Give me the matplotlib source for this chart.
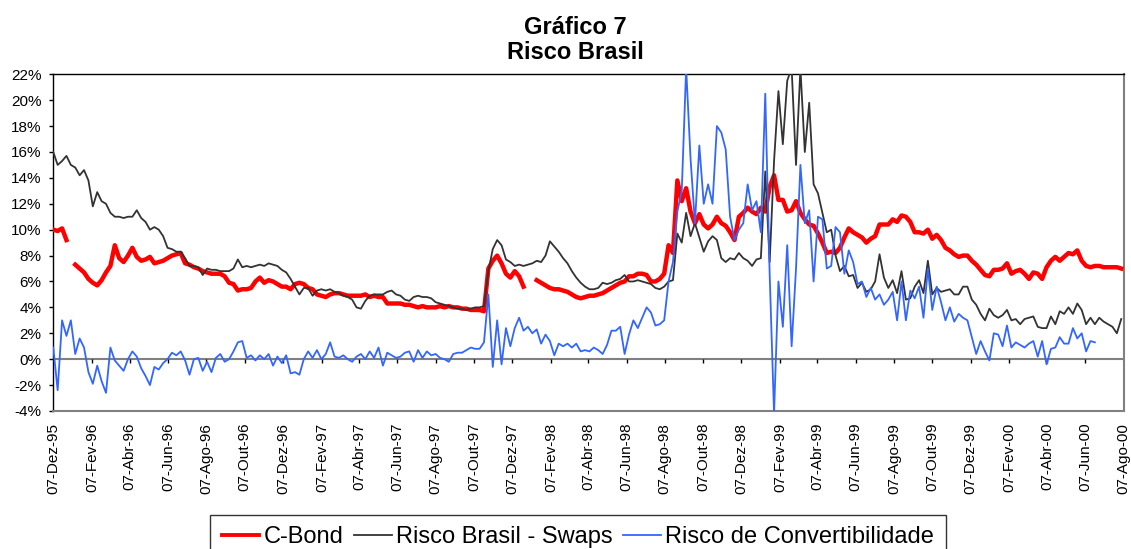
import numpy as np
import pandas as pd
import matplotlib
matplotlib.use('Agg')
import matplotlib.pyplot as plt
from matplotlib.ticker import FuncFormatter, MultipleLocator

plt.rcParams['font.family'] = ['Liberation Sans', 'DejaVu Sans']

nan = np.nan

# weekly readings (in %), starting 07-Dez-95
cbond = [
    10.0, 9.9, 10.1, 9.2, nan, 7.3, 7.0, 6.7, 6.2, 5.9,
    5.7, 6.1, 6.7, 7.2, 8.8, 7.8, 7.5, 8.0, 8.6, 7.9,
    7.6, 7.7, 7.9, 7.4, 7.5, 7.6, 7.8, 8.0, 8.1, 8.2,
    7.4, 7.3, 7.1, 7.0, 6.8, 6.7, 6.6, 6.6, 6.6, 6.4,
    5.9, 5.8, 5.3,
    5.4, 5.4, 5.5, 6.0, 6.3, 5.9, 6.1, 6.0, 5.8, 5.6,
    5.6, 5.4, 5.8, 5.9, 5.8, 5.5, 5.4, 5.0, 4.9, 4.8,
    5.0, 5.1, 5.1, 5.0, 4.9, 4.9, 4.9, 4.9, 5.0, 4.8,
    4.9, 4.8, 4.8, 4.3, 4.3, 4.3, 4.3, 4.2, 4.2, 4.1,
    4.0, 4.1, 4.0, 4.0, 4.0, 4.1, 4.0, 4.1, 4.0, 4.0,
    3.9, 3.9, 3.8, 3.8, 3.8, 3.7, 7.0, 7.6, 8.0, 7.4,
    6.6, 6.3, 6.8, 6.4, 5.6, nan, nan, 6.1, 5.9, 5.7,
    5.5, 5.4, 5.4, 5.3, 5.2, 5.0, 4.8, 4.7, 4.8, 4.9,
    4.9, 5.0, 5.1, 5.3, 5.5, 5.7, 5.9, 6.0, 6.4, 6.4,
    6.6, 6.6, 6.5, 6.0, 6.0, 6.2, 6.6, 8.8, 8.2, 13.8,
    12.2, 13.2, 11.4, 10.5, 11.2, 10.4, 10.1, 10.4, 11.0, 10.5,
    10.3, 9.8, 9.2, 11.0, 11.3, 11.7, 11.4, 11.2, 11.7, 11.4,
    13.3, 14.2, 12.3, 12.3, 11.4, 11.5, 12.2, 11.3, 10.8, 10.4,
    10.3, 9.7, 9.0, 8.2, 8.3, 8.2, 8.6, 9.4, 10.1, 9.8,
    9.6, 9.4, 9.0, 9.3, 9.5, 10.4, 10.4, 10.4, 10.8, 10.6,
    11.1, 11.0, 10.6, 9.8, 9.8, 9.7, 10.0, 9.3, 9.6, 9.2,
    8.6, 8.4, 8.1, 7.9, 8.0, 8.0, 7.6, 7.3, 6.9, 6.5,
    6.4, 6.9, 6.9, 7.0, 7.4, 6.6, 6.8, 6.9, 6.6, 6.2,
    6.7, 6.6, 6.2, 7.1, 7.6, 7.9, 7.6, 7.9, 8.2, 8.1,
    8.4, 7.6, 7.2, 7.1, 7.2, 7.2, 7.1, 7.1, 7.1, 7.1,
    7.0,
]

swaps = [
    16.0, 15.0, 15.3, 15.7, 15.0, 14.8, 14.2, 14.6, 13.8, 11.8,
    12.9, 12.2, 12.0, 11.3, 11.0, 11.0, 10.9, 11.0, 11.0, 11.5,
    10.9, 10.6, 10.0, 10.2, 10.0, 9.5, 8.6, 8.5, 8.3, 8.3,
    7.8, 7.2, 7.2, 7.1, 6.5, 7.0, 6.9, 6.9, 6.8, 6.8,
    6.8, 7.0, 7.7,
    7.1, 7.2, 7.1, 7.2, 7.3, 7.2, 7.4, 7.3, 7.2, 6.9,
    6.7, 6.2, 5.6, 5.0, 5.5, 5.5, 4.9, 5.3, 5.4, 5.3,
    5.4, 5.2, 5.1, 4.9, 4.8, 4.6, 4.0, 3.9, 4.5, 4.9,
    5.0, 5.0, 5.0, 5.2, 5.3, 5.0, 4.9, 4.6, 4.5, 4.8,
    4.9, 4.8, 4.8, 4.7, 4.4, 4.3, 4.2, 4.1, 4.0, 3.9,
    3.9, 3.8, 3.9, 4.0, 4.0, 4.1, 6.8, 8.5, 9.2, 8.8,
    7.7, 7.5, 7.2, 7.3, 7.2, 7.3, 7.4, 7.6, 7.5, 8.0,
    9.1, 8.7, 8.3, 7.8, 7.4, 6.8, 6.3, 5.9, 5.6, 5.4,
    5.4, 5.5, 5.9, 5.8, 5.9, 6.1, 6.2, 6.5, 6.0, 6.0,
    6.1, 6.0, 5.9, 5.8, 5.5, 5.4, 5.6, 6.0, 6.1, 9.7,
    9.0, 11.3, 9.5, 10.5, 9.4, 8.3, 9.1, 9.5, 9.2, 7.8,
    7.5, 7.8, 7.7, 8.2, 7.8, 7.6, 7.2, 7.7, 7.8, 14.5,
    7.5, 15.3, 20.7, 16.6, 21.5, 22.5, 15.0, 22.5, 16.0, 19.8,
    13.5, 12.8, 11.3, 9.8, 10.0, 8.0, 6.8, 7.2, 6.4, 6.5,
    5.5, 5.9, 5.2, 5.4, 6.0, 8.1, 6.3, 5.5, 6.1, 5.1,
    6.8, 4.6, 4.7, 5.6, 6.1, 5.1, 7.6, 5.0, 5.5, 5.2,
    5.3, 5.4, 5.0, 5.0, 5.6, 5.6, 4.6, 4.2, 3.5, 3.0,
    3.9, 3.4, 3.2, 3.4, 3.8, 3.0, 3.1, 2.7, 3.1, 3.2,
    3.3, 2.5, 2.4, 2.4, 3.3, 2.7, 3.7, 3.5, 4.0, 3.5,
    4.3, 3.8, 2.7, 3.2, 2.7, 3.2, 2.9, 2.7, 2.5, 2.0,
    3.1,
]

convert = [
    0.9, -2.4, 3.0, 1.8, 3.0, 0.4, 1.6, 0.9, -1.0, -1.9,
    -0.5, -1.7, -2.6, 0.9, -0.1, -0.5, -0.9, 0.0, 0.6, 0.2,
    -0.7, -1.3, -2.0, -0.6, -0.8, -0.3, 0.0, 0.5, 0.3, 0.6,
    -0.1, -1.2, 0.0, 0.1, -0.9, -0.2, -1.0, 0.1, 0.4, -0.2,
    0.0, 0.6, 1.3,
    1.4, 0.1, 0.3, -0.1, 0.3, 0.0, 0.4, -0.5, 0.2, -0.3,
    0.3, -1.1, -1.0, -1.2, 0.0, 0.6, 0.1, 0.7, 0.0, 0.4,
    1.3, 0.2, 0.1, 0.3, 0.0, -0.2, 0.2, 0.4, 0.0, 0.6,
    0.1, 0.9, -0.5, 0.5, 0.3, 0.1, 0.2, 0.5, 0.6, -0.2,
    0.7, 0.1, 0.6, 0.3, 0.4, 0.1, 0.0, -0.2, 0.4, 0.5,
    0.5, 0.7, 0.9, 0.8, 0.8, 1.3, 5.0, -0.6, 3.0, -0.4,
    2.4, 1.0, 2.4, 3.2, 2.2, 2.5, 2.0, 2.3, 1.2, 1.9,
    1.4, 0.3, 1.2, 1.0, 1.2, 0.9, 1.2, 0.6, 0.7, 0.6,
    0.9, 0.7, 0.4, 1.1, 2.2, 2.2, 2.5, 0.4, 1.9, 3.0,
    2.4, 3.2, 4.0, 3.6, 2.6, 2.7, 3.0, 6.0, 7.5,
    11.4, 13.0, 22.5, 15.5, 10.5, 16.5, 12.0, 13.5, 12.0, 18.0,
    17.5, 16.2, 11.0, 9.2, 10.0, 10.5, 13.5, 11.5, 12.2, 9.8,
    20.5, 6.6, -4.2, 6.0, 2.5, 8.8, 1.0, 7.0, 15.0, 10.5,
    11.5, 6.0, 11.0, 10.8, 7.0, 7.2, 10.2, 9.8, 6.6, 8.4,
    7.5, 5.8, 6.0, 4.8, 5.5, 4.6, 5.0, 4.2, 4.6, 5.2,
    3.0,
    6.0, 3.0, 5.3, 4.7, 5.6, 3.2, 7.0, 3.8, 5.6, 4.4,
    3.0, 4.0, 2.9, 3.5, 3.2, 3.0, 1.7, 0.4, 1.4, 0.6,
    -0.1, 2.0, 1.9, 1.0, 2.6, 0.9, 1.3, 1.1, 0.9, 1.2,
    1.4, 0.2, 1.4, -0.4, 0.8, 0.9, 1.7, 1.2, 1.2, 2.4,
    1.6, 2.0, 0.6, 1.4, 1.3,
    nan, nan, nan, nan, nan, nan,
]

series_names = ['C-Bond', 'Risco Brasil - Swaps', 'Risco de Convertibilidade']
meses = ['Jan', 'Fev', 'Mar', 'Abr', 'Mai', 'Jun',
         'Jul', 'Ago', 'Set', 'Out', 'Nov', 'Dez']

assert len(cbond) == len(swaps) == len(convert), (len(cbond), len(swaps), len(convert))

datas = pd.date_range('1995-12-07', periods=len(cbond), freq='7D')
ticks = pd.date_range('1995-12-07', '2000-08-07', freq=pd.DateOffset(months=2))
tick_labels = [f'{d.day:02d}-{meses[d.month - 1]}-{d.year % 100:02d}' for d in ticks]

fig = plt.figure(figsize=(11.31, 5.49), dpi=100)
ax = fig.add_axes([0.0471, 0.2514, 0.9465, 0.6133])

l1, = ax.plot(datas, cbond, color='#FF0000', lw=3.2, zorder=3)
l2, = ax.plot(datas, swaps, color='#333333', lw=1.3, zorder=4)
l3, = ax.plot(datas, convert, color='#3366FF', lw=1.3, zorder=5)

# zero line with its little date ticks
ax.axhline(0, color='#808080', lw=1.5, zorder=2)
ax.vlines(ticks, -0.3, 0, color='black', lw=1, zorder=2)

ax.set_xlim(ticks[0], ticks[-1])
ax.set_ylim(-4, 22)
ax.yaxis.set_major_locator(MultipleLocator(2))
ax.yaxis.set_major_formatter(FuncFormatter(lambda v, p: f'{v:.0f}%'))
ax.set_xticks(ticks)
ax.set_xticklabels(tick_labels, rotation=90, fontsize=11)
ax.tick_params(axis='x', length=0, pad=8.5)
ax.tick_params(axis='y', length=3, width=1, direction='out', labelsize=11, pad=5.5)

for side in ['left', 'top']:
    ax.spines[side].set_color('black')
    ax.spines[side].set_linewidth(1)
for side in ['right', 'bottom']:
    ax.spines[side].set_color('#808080')
    ax.spines[side].set_linewidth(1.5)

fig.text(575.5 / 1131, 1 - 40 / 549, 'Gráfico 7\nRisco Brasil', ha='center', va='center',
         fontsize=17, fontweight='bold', linespacing=1.12)

leg = fig.legend([l1, l2, l3], series_names, loc='upper center',
                 bbox_to_anchor=(578 / 1131, 1 - 514.5 / 549), ncol=3,
                 fontsize=17, frameon=True, fancybox=False, edgecolor='black',
                 handlelength=1.6, handletextpad=0.2, columnspacing=0.42,
                 borderpad=0.5, borderaxespad=0)
leg.get_frame().set_linewidth(1)
leg.legend_handles[0].set_linewidth(2.8)

fig.savefig('out.png', dpi=100)
